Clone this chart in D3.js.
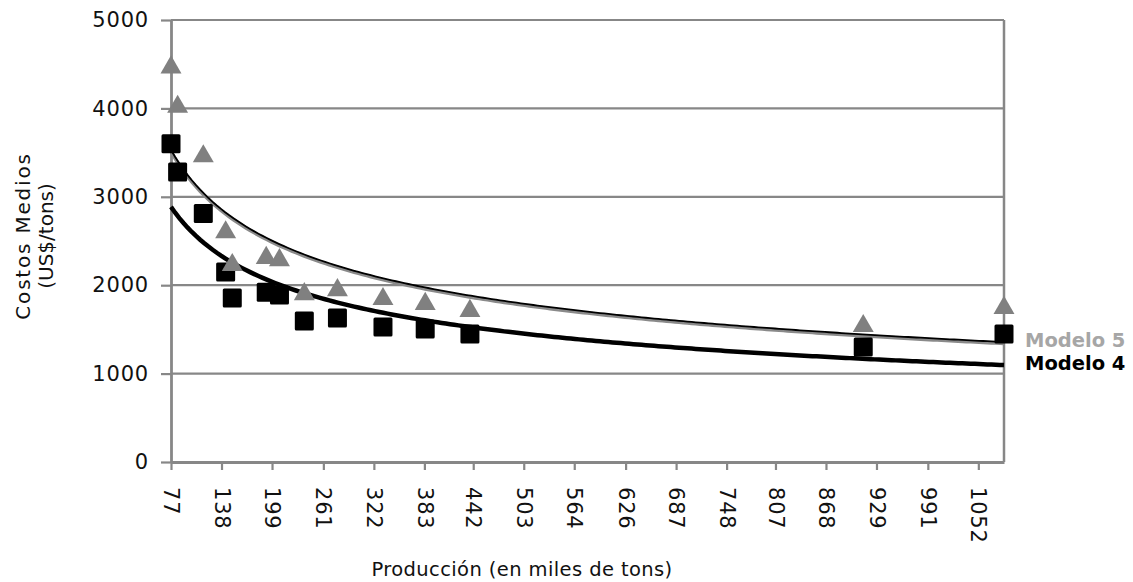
<!DOCTYPE html>
<html>
<head>
<meta charset="utf-8">
<script src="https://cdn.jsdelivr.net/npm/d3@7"></script>
<style>
  body { margin: 0; background: #fff; }
  text { font-family: "DejaVu Sans", sans-serif; }
</style>
</head>
<body>
<div id="chart"></div>
<script>
// Production (thousand tons) for each observation
var produccion = [77, 85, 116, 143, 151, 192, 208, 238, 278, 333, 384, 438, 913, 1083];
// Average cost, Modelo 4 (black squares)
var costoModelo4 = [3600, 3280, 2810, 2150, 1855, 1920, 1890, 1595, 1630, 1527, 1505, 1448, 1300, 1448];
// Average cost, Modelo 5 (grey triangles)
var costoModelo5 = [4475, 4030, 3470, 2610, 2240, 2320, 2295, 1910, 1955, 1855, 1800, 1720, 1550, 1755];

// Power trendlines y = a * x^b
var trendModelo4 = [14150, -0.366];
var trendModelo5 = [16970, -0.3615];

var xTicks = [77, 138, 199, 261, 322, 383, 442, 503, 564, 626, 687, 748, 807, 868, 929, 991, 1052];
var yTicks = [0, 1000, 2000, 3000, 4000, 5000];

var W = 1133, H = 582;
var margin = {top: 20, right: 129, bottom: 120, left: 171};
var gridColor = "#878787";

var svg = d3.select("#chart").append("svg")
    .attr("width", W).attr("height", H);

var x = d3.scaleLinear().domain([77, 1083]).range([margin.left, W - margin.right]);
var y = d3.scaleLinear().domain([0, 5000]).range([H - margin.bottom, margin.top]);

// gridlines
svg.append("g").selectAll("line")
    .data(yTicks.filter(function(d) { return d > 0; }))
    .join("line")
    .attr("x1", margin.left).attr("x2", W - margin.right)
    .attr("y1", function(d) { return y(d); }).attr("y2", function(d) { return y(d); })
    .attr("stroke", gridColor).attr("stroke-width", 2.2);

// right border
svg.append("line")
    .attr("x1", W - margin.right).attr("x2", W - margin.right)
    .attr("y1", y(5000)).attr("y2", y(0))
    .attr("stroke", gridColor).attr("stroke-width", 2.5);

// y axis
var yAxis = svg.append("g")
    .attr("transform", "translate(" + margin.left + ",0)")
    .call(d3.axisLeft(y).tickValues(yTicks).tickSize(10).tickPadding(12)
        .tickSizeOuter(0).tickFormat(d3.format("d")));
yAxis.select(".domain").attr("stroke", gridColor).attr("stroke-width", 2.8);
yAxis.selectAll(".tick line").attr("stroke", gridColor).attr("stroke-width", 2.2);
yAxis.selectAll(".tick text").attr("font-size", 21).attr("fill", "#111")
    .attr("letter-spacing", 0.8)
    .style("font-family", "DejaVu Sans");

// x axis
var xAxis = svg.append("g")
    .attr("transform", "translate(0," + y(0) + ")")
    .call(d3.axisBottom(x).tickValues(xTicks).tickSize(8).tickSizeOuter(0).tickFormat(d3.format("d")));
xAxis.select(".domain").attr("stroke", gridColor).attr("stroke-width", 2.8);
xAxis.selectAll(".tick line").attr("stroke", gridColor).attr("stroke-width", 2.2);
xAxis.selectAll(".tick text")
    .attr("font-size", 21).attr("fill", "#111")
    .attr("letter-spacing", 0.8)
    .style("font-family", "DejaVu Sans")
    .attr("text-anchor", "start")
    .attr("transform", "rotate(90)")
    .attr("x", 25).attr("y", 0).attr("dy", "0.35em");

// trendlines
function powerLine(coef) {
    var xs = d3.range(0, 201).map(function(i) { return 77 + (1083 - 77) * i / 200; });
    return d3.line()
        .x(function(v) { return x(v); })
        .y(function(v) { return y(coef[0] * Math.pow(v, coef[1])); })(xs);
}

svg.append("path").attr("d", powerLine(trendModelo4))
    .attr("fill", "none").attr("stroke", "#000").attr("stroke-width", 4.5);
svg.append("path").attr("d", powerLine(trendModelo5))
    .attr("transform", "translate(0,1.5)")
    .attr("fill", "none").attr("stroke", "#8a8a8a").attr("stroke-width", 3.5);
svg.append("path").attr("d", powerLine(trendModelo5))
    .attr("fill", "none").attr("stroke", "#000").attr("stroke-width", 1.8);

// markers
var sq = 19;
svg.append("g").selectAll("rect")
    .data(produccion.map(function(p, i) { return [p, costoModelo4[i]]; }))
    .join("rect")
    .attr("x", function(d) { return x(d[0]) - sq / 2; })
    .attr("y", function(d) { return y(d[1]) - sq / 2; })
    .attr("width", sq).attr("height", sq).attr("rx", 1.5)
    .attr("fill", "#000");

var tri = d3.symbol().type(d3.symbolTriangle).size(190);
svg.append("g").selectAll("path")
    .data(produccion.map(function(p, i) { return [p, costoModelo5[i]]; }))
    .join("path")
    .attr("d", tri)
    .attr("transform", function(d) { return "translate(" + x(d[0]) + "," + (y(d[1]) + 1) + ")"; })
    .attr("fill", "#808080");

// series labels
var lastX = x(1083) + 21;
svg.append("text").attr("x", lastX).attr("y", y(trendModelo5[0] * Math.pow(1083, trendModelo5[1])) + 5)
    .attr("font-size", 19.5).attr("font-weight", "bold").attr("fill", "#a6a6a6")
    .text("Modelo 5");
svg.append("text").attr("x", lastX).attr("y", y(trendModelo4[0] * Math.pow(1083, trendModelo4[1])) + 5)
    .attr("font-size", 19.5).attr("font-weight", "bold").attr("fill", "#000")
    .text("Modelo 4");

// axis titles
svg.append("text")
    .attr("x", 522).attr("y", 576)
    .attr("text-anchor", "middle").attr("font-size", 19.5).attr("fill", "#111")
    .attr("letter-spacing", 0.4)
    .text("Producción (en miles de tons)");

var yt = svg.append("text")
    .attr("transform", "translate(30,236) rotate(-90)")
    .attr("text-anchor", "middle").attr("font-size", 20).attr("fill", "#111");
yt.append("tspan").attr("x", 0).attr("y", 0).attr("letter-spacing", 1.8).text("Costos Medios");
yt.append("tspan").attr("x", 0).attr("y", 23).text("(US$/tons)");
</script>
</body>
</html>
